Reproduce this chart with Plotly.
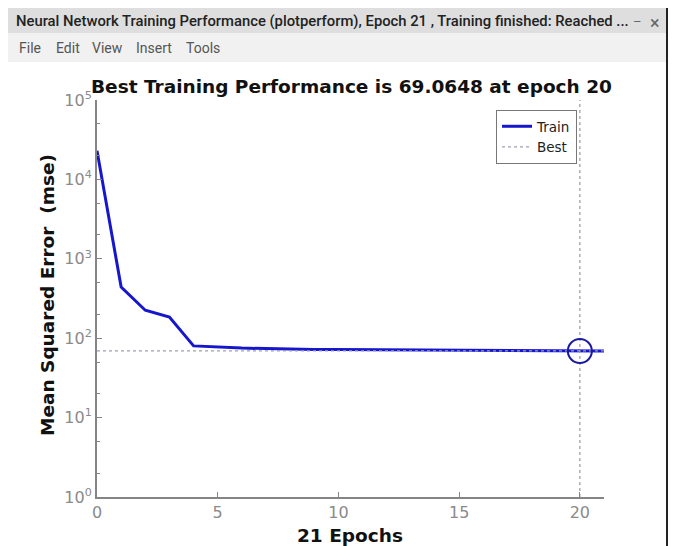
import plotly.graph_objects as go

# ---- data ----
epochs = list(range(0, 22))
train_mse = [23000, 440, 225, 185, 80, 77, 75, 74, 72.5, 72, 71.8, 71.5,
             71.3, 71.0, 70.8, 70.5, 70.2, 70.0, 69.6, 69.3, 69.0648, 69.2]
best_epoch = 20
best_perf = 69.0648
x_ticks = [0, 5, 10, 15, 20]
y_ticks = [1, 10, 100, 1000, 10000, 100000]
y_ticktext = ["10<sup>0</sup>", "10<sup>1</sup>", "10<sup>2</sup>",
              "10<sup>3</sup>", "10<sup>4</sup>", "10<sup>5</sup>"]
menu_items = ["File", "Edit", "View", "Insert", "Tools"]

PAGE_W, PAGE_H = 681, 546
OFF = 8  # default body margin of the html page
W, H = PAGE_W - OFF, PAGE_H - OFF
L, R, T, B = 97, 604, 100, 497  # plot area in page px


def px(xp):
    return (xp - L) / (R - L)


def py(yp):
    return (B - yp) / (B - T)


BLUE = "#1616cc"
GRAY = "#858585"
FONT = "DejaVu Sans"

fig = go.Figure()
fig.add_trace(go.Scatter(x=epochs, y=train_mse, mode="lines", name="Train",
                         line=dict(color=BLUE, width=3)))
fig.add_trace(go.Scatter(x=[0, 21], y=[best_perf, best_perf], mode="lines",
                         name="Best", line=dict(color="#a0a0b0", width=1.3, dash="dot")))
fig.add_trace(go.Scatter(x=[best_epoch, best_epoch], y=[1, 100000], mode="lines",
                         showlegend=False, line=dict(color="#a0a0b0", width=1.3, dash="dot")))
fig.add_trace(go.Scatter(x=[best_epoch], y=[best_perf], mode="markers", showlegend=False,
                         marker=dict(symbol="circle-open", size=24,
                                     line=dict(color="#1a1aa0", width=2), color="#1a1aa0")))

axis_common = dict(showgrid=False, zeroline=False, showline=True, linecolor=GRAY,
                   linewidth=2, ticks="inside", ticklen=5, tickcolor=GRAY,
                   tickfont=dict(family=FONT, size=16, color="#8a8a8a"), mirror=False)

fig.update_xaxes(range=[0, 21], tickvals=x_ticks, **axis_common)
fig.update_yaxes(type="log", range=[0, 5], tickvals=y_ticks, ticktext=y_ticktext,
                 minor=dict(ticks="inside", ticklen=3, tickcolor=GRAY, showgrid=False),
                 **axis_common)

shapes = [
    # title bar
    dict(type="rect", xref="paper", yref="paper", x0=px(8), x1=px(666), y0=py(8), y1=py(33),
         fillcolor="#dedede", line=dict(width=0), layer="below"),
    # menu bar
    dict(type="rect", xref="paper", yref="paper", x0=px(8), x1=px(666), y0=py(33), y1=py(62),
         fillcolor="#f1f1f1", line=dict(width=0), layer="below"),
    # right window border
    dict(type="line", xref="paper", yref="paper", x0=px(667), x1=px(667), y0=py(8), y1=py(546),
         line=dict(color="#222222", width=2)),
]

menu_x = [17, 54, 90, 134, 184]
annotations = [
    dict(text="Neural Network Training Performance (plotperform), Epoch 21 , Training finished: Reached ...",
         xref="paper", yref="paper", x=px(14), y=py(21), xanchor="left", yanchor="middle",
         showarrow=False, font=dict(family="Roboto", size=14.8, color="#222222", weight=500)),
    dict(text="–", xref="paper", yref="paper", x=px(637), y=py(21), xanchor="center",
         yanchor="middle", showarrow=False, font=dict(family="Roboto", size=13, color="#666666")),
    dict(text="×", xref="paper", yref="paper", x=px(655), y=py(22), xanchor="center",
         yanchor="middle", showarrow=False, font=dict(family="Roboto", size=18, color="#666666")),
    dict(text="<b>Best Training Performance is 69.0648 at epoch 20</b>",
         xref="paper", yref="paper", x=px(351), y=py(86), xanchor="center", yanchor="middle",
         showarrow=False, font=dict(family=FONT, size=18.5, color="#111111")),
    dict(text="<b>21 Epochs</b>", xref="paper", yref="paper", x=px(350), y=py(535),
         xanchor="center", yanchor="middle", showarrow=False,
         font=dict(family=FONT, size=18.5, color="#111111")),
    dict(text="<b>Mean Squared Error  (mse)</b>", xref="paper", yref="paper", x=px(47),
         y=py(295), xanchor="center", yanchor="middle", textangle=-90, showarrow=False,
         font=dict(family=FONT, size=18.5, color="#111111")),
]
for name, xm in zip(menu_items, menu_x):
    annotations.append(dict(text=name, xref="paper", yref="paper", x=px(xm), y=py(48),
                            xanchor="left", yanchor="middle", showarrow=False,
                            font=dict(family="Roboto", size=14, color="#555555")))

fig.update_layout(
    width=W, height=H,
    margin=dict(l=L - OFF, r=PAGE_W - R, t=T - OFF, b=PAGE_H - B),
    paper_bgcolor="white", plot_bgcolor="white",
    showlegend=True,
    legend=dict(x=px(496), y=py(110), xanchor="left", yanchor="top",
                bgcolor="white", bordercolor="#777777", borderwidth=1,
                font=dict(family=FONT, size=13.5, color="#222222"),
                tracegroupgap=0, itemwidth=30),
    shapes=shapes,
    annotations=annotations,
)

fig.write_html("out.html")
